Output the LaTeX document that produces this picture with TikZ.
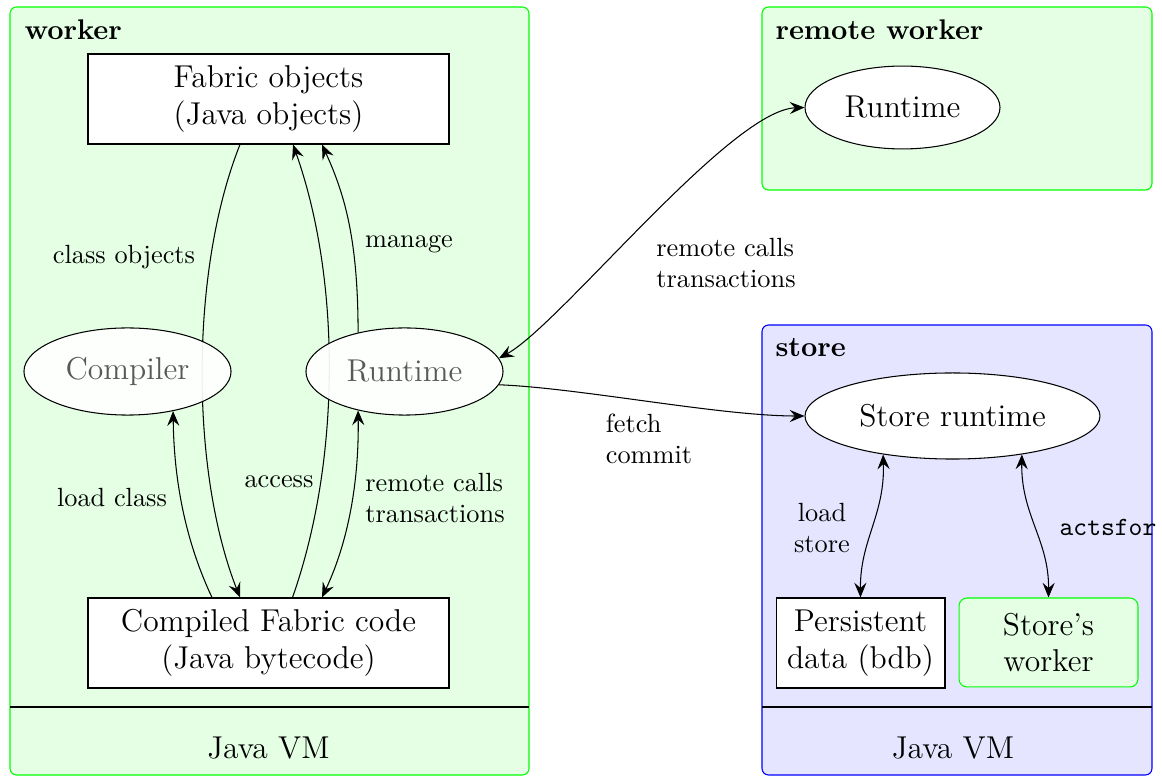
\documentclass[tikz,border=0pt]{standalone}
\usetikzlibrary{shapes.geometric,arrows.meta,calc}

\pgfdeclarelayer{frames}
\pgfdeclarelayer{links}
\pgfsetlayers{frames,links,main}

\tikzset{
  >={Stealth[length=5.6pt,width=4.6pt,inset=2pt]},
  box/.style={draw, fill=white, align=center, font=\large, inner sep=0pt,
              minimum width=137.2pt, minimum height=34.2pt},
  oval/.style={ellipse, draw, fill=white, align=center, font=\large, inner sep=0pt},
  faded/.style={fill opacity=0.93, text opacity=1, text=black!65},
  lbl/.style={font=\normalsize, align=left, inner sep=0pt},
  title/.style={font=\fontsize{10.8}{13}\selectfont\bfseries, anchor=base west, inner sep=0pt},
  greenframe/.style={draw=green, fill=green!10, rounded corners=2.5pt, line width=0.4pt},
  blueframe/.style={draw=blue, fill=blue!10, rounded corners=2.5pt, line width=0.4pt},
  vmline/.style={line width=0.8pt},
  link/.style={line width=0.4pt}
}

\begin{document}
\begin{tikzpicture}[x=0.38pt,y=-0.38pt]
\useasboundingbox (0,0) rectangle (1162,776);

% ---- containers ----
\begin{pgfonlayer}{frames}
  \draw[greenframe] (10,7) rectangle (529,775);
  \draw[vmline] (10,707) -- (529,707);
  \draw[greenframe] (762,7) rectangle (1152,190);
  \draw[blueframe] (762,325) rectangle (1152,775);
  \draw[vmline] (762,707) -- (1152,707);
\end{pgfonlayer}

% ---- titles ----
\node[title] (tworker) at (24,40) {worker};
\node[title] (tremote) at (775,40) {remote worker};
\node[title] (tstore)  at (775,357) {store};

% ---- worker contents ----
\node[box] (fabric)   at (268.5,99)  {Fabric objects\\(Java objects)};
\node[box] (compiled) at (268.5,643) {Compiled Fabric code\\(Java bytecode)};
\node[oval,faded,minimum width=78.7pt,minimum height=33.1pt] (compiler) at (127.5,371.5) {Compiler};
\node[oval,faded,minimum width=74.9pt,minimum height=33.1pt] (runtime)  at (404.5,371.5) {Runtime};
\node[font=\large] (vmw) at (268.5,748) {Java VM};

% ---- remote worker contents ----
\node[oval,minimum width=74.1pt,minimum height=31.5pt] (remote) at (902.5,107.5) {Runtime};

% ---- store contents ----
\node[oval,minimum width=112.1pt,minimum height=32.7pt] (srt) at (952.5,416) {Store runtime};
\node[box,minimum width=64.2pt] (persist) at (860.5,643) {Persistent\\data (bdb)};
\node[box,draw=green,fill=green!10,rounded corners=3pt,minimum width=68pt,minimum height=33.8pt]
  (sworker) at (1048.5,642.5) {Store's\\worker};
\node[font=\large] (vms) at (953,748) {Java VM};

% ---- connector labels ----
\node[lbl] (lclass)   at (124,257)  {class objects};
\node[lbl] (lmanage)  at (409,244)  {manage};
\node[lbl] (lload)    at (112,498)  {load class};
\node[lbl] (laccess)  at (279,482)  {access};
\node[lbl] (lrcin)    at (435,498)  {remote calls\\transactions};
\node[lbl] (lrcout)   at (726,263)  {remote calls\\transactions};
\node[lbl] (lfetch)   at (649,439)  {fetch\\commit};
\node[lbl,align=center] (lstore) at (822,528) {load\\store};
\node[lbl,font=\ttfamily] (lacts) at (1108,527) {actsfor};

% ---- connectors ----
\begin{pgfonlayer}{links}
  \draw[link,->] ($(fabric.south)+(-28.5,0)$) .. controls (190,270) and (190,470) .. ($(compiled.north)+(-28.5,0)$);
  \draw[link,->] ($(compiled.north)+(24,0)$) .. controls (341,460) and (341,280) .. ($(fabric.south)+(24.5,0)$);
  \draw[link,->] (runtime.140) .. controls (358,240) and (345,195) .. ($(fabric.south)+(53.5,0)$);
  \draw[link,->] ($(compiled.north)+(-56.5,0)$) .. controls (185,540) and (174,480) .. (compiler.-41);
  \draw[link,<->] ($(compiled.north)+(53.5,0)$) .. controls (349,540) and (359,480) .. (runtime.-140);
  \draw[link,<->] (runtime.8) .. controls (560,325) and (730,110) .. (remote.west);
  \draw[link,->] (runtime.-8) .. controls (580,388) and (720,416) .. (srt.west);
  \draw[link,<->] (srt.-151) .. controls (885,515) and (860,540) .. (persist.north);
  \draw[link,<->] (srt.-29) .. controls (1021,515) and (1049,540) .. (sworker.north);
\end{pgfonlayer}
\end{tikzpicture}
\end{document}
